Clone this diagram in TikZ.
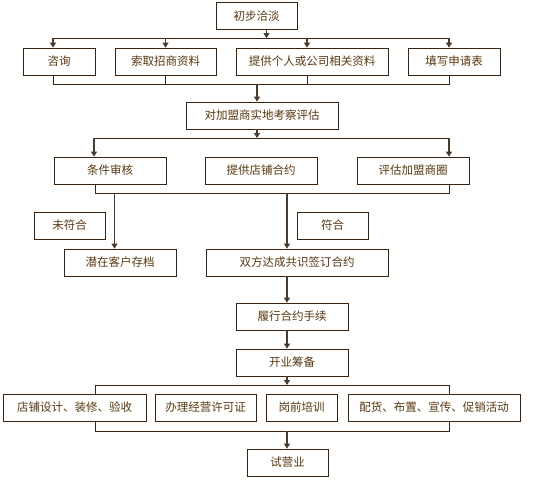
\documentclass[tikz,border=0pt]{standalone}
\usepackage{fontspec}
\usepackage{xcolor}
\usetikzlibrary{arrows.meta}
\newfontfamily\cjk{Noto Sans CJK SC}
\definecolor{boxc}{HTML}{3A2410}
\definecolor{txtc}{HTML}{5A3810}
\definecolor{arrc}{HTML}{4A3A2C}

\begin{document}
\begin{tikzpicture}[x=1pt,y=-1pt,
    box/.style={draw=boxc,line width=0.8pt,fill=white,text=txtc,inner sep=0pt,
      minimum height=27pt,font=\cjk\fontsize{11.5}{13}\selectfont},
    ln/.style={draw=boxc,line width=0.8pt},
    arr/.style={-{Triangle[width=6pt,length=5pt]},line width=1.4pt,draw=arrc}]
    \useasboundingbox (0,0) rectangle (543,479);
    \coordinate (b1l) at (53,38);  \coordinate (b1r) at (449,38);
    \coordinate (b2l) at (53,84);  \coordinate (b2r) at (449,84);
    \coordinate (b3l) at (94,138); \coordinate (b3r) at (449,138);
    \coordinate (b4l) at (95,193); \coordinate (b4r) at (449,193);
    \coordinate (b5a) at (95,385); \coordinate (b5b) at (449,431);
    \coordinate (mx) at (287,0);
    \draw[ln] (b5a) rectangle (b5b);
    \node[box,minimum width=81pt] (start) at (256.5,16) {初步洽淡};
    \node[box,minimum width=72pt] (zx) at (59,61.5) {咨询};
    \node[box,minimum width=101pt] (sq) at (165.5,61.5) {索取招商资料};
    \node[box,minimum width=152pt] (tg) at (312,61.5) {提供个人或公司相关资料};
    \node[box,minimum width=92pt] (tx) at (454,61.5) {填写申请表};
    \node[box,minimum width=152pt] (ev) at (262,115.5) {对加盟商实地考察评估};
    \node[box,minimum width=112pt] (tj) at (110,170.5) {条件审核};
    \node[box,minimum width=112pt] (dp) at (261,170.5) {提供店铺合约};
    \node[box,minimum width=112pt] (pg) at (413,170.5) {评估加盟商圈};
    \node[box,minimum width=71pt] (wf) at (69.5,225.5) {未符合};
    \node[box,minimum width=71pt] (fh) at (332.5,225.5) {符合};
    \node[box,minimum width=112pt] (qz) at (120,262.5) {潜在客户存档};
    \node[box,minimum width=182pt] (sf) at (297,262.5) {双方达成共识签订合约};
    \node[box,minimum width=112pt] (lx) at (292,316.5) {履行合约手续};
    \node[box,minimum width=112pt] (kb) at (292,362.5) {开业筹备};
    \node[box,minimum width=143pt] (d1) at (74.5,407.5) {店铺设计、装修、验收};
    \node[box,minimum width=101pt] (d2) at (205.5,407.5) {办理经营许可证};
    \node[box,minimum width=71pt] (d3) at (301.5,407.5) {岗前培训};
    \node[box,minimum width=172pt] (d4) at (434,407.5) {配货、布置、宣传、促销活动};
    \node[box,minimum width=81pt] (sy) at (287.5,462.5) {试营业};
    \draw[arr] ([xshift=10pt]start.south) -- ([xshift=10pt]start.south |- b1l);
    \draw[ln] (b1l) -- (b1r);
    \draw[arr] (b1l) -- (b1l |- zx.north);
    \draw[arr] (sq.north |- b1l) -- (sq.north);
    \draw[arr] ([xshift=-5pt]tg.north |- b1l) -- ([xshift=-5pt]tg.north);
    \draw[arr] (b1r) -- (b1r |- tx.north);
    \draw[ln] (b2l |- zx.south) -- (b2l) -- (b2r) -- (b2r |- tx.south);
    \draw[ln] (sq.south) -- (sq.south |- b2l);
    \draw[ln] ([xshift=-5pt]tg.south) -- ([xshift=-5pt]tg.south |- b2l);
    \draw[arr] ([xshift=-5pt]ev.north |- b2l) -- ([xshift=-5pt]ev.north);
    \draw[arr] ([xshift=-5pt]ev.south) -- ([xshift=-5pt]ev.south |- b3l);
    \draw[ln] (b3l) -- (b3r);
    \draw[arr] (b3l) -- (b3l |- tj.north);
    \draw[arr] (b3r) -- (b3r |- pg.north);
    \draw[ln] (b4l |- tj.south) -- (b4l) -- (b4r) -- (b4r |- pg.south);
    \draw[arr] ([xshift=-5.5pt]qz.north |- b4l) -- ([xshift=-5.5pt]qz.north);
    \draw[arr] (mx |- b4l) -- (mx |- sf.north);
    \draw[arr] (mx |- sf.south) -- (mx |- lx.north);
    \draw[arr] (mx |- lx.south) -- (mx |- kb.north);
    \draw[arr] (mx |- kb.south) -- (mx |- b5a);
    \draw[arr] (mx |- b5b) -- (mx |- sy.north);
\end{tikzpicture}
\end{document}
